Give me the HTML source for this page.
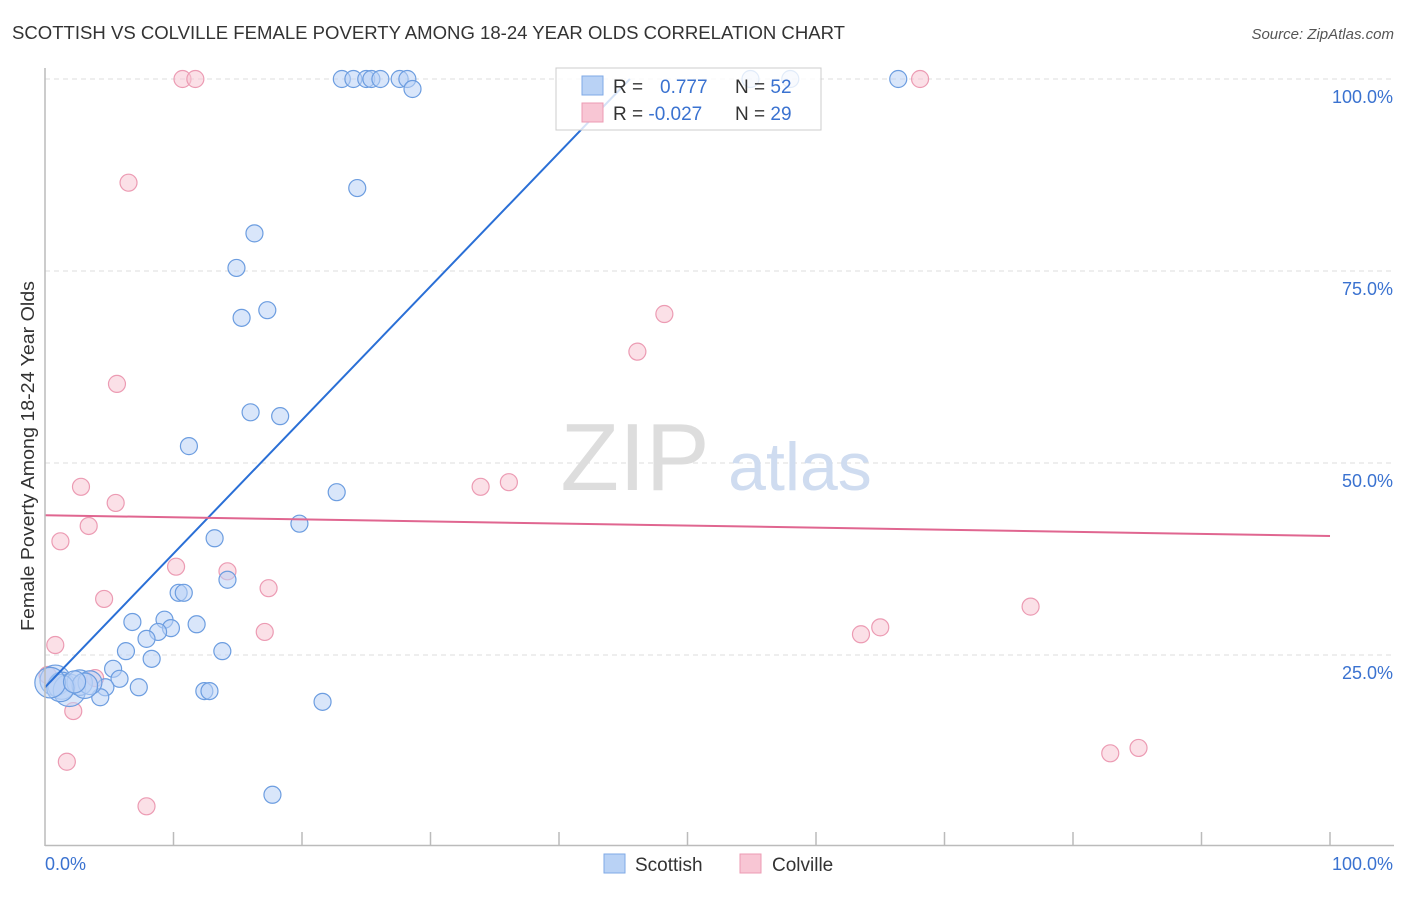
<!DOCTYPE html>
<html><head><meta charset="utf-8"><style>
body{margin:0;background:#fff;font-family:"Liberation Sans",sans-serif;}
svg text{font-family:"Liberation Sans",sans-serif;}
</style></head><body>
<svg width="1406" height="892">
<text x="12" y="39" font-size="18" fill="#333" textLength="833" lengthAdjust="spacingAndGlyphs">SCOTTISH VS COLVILLE FEMALE POVERTY AMONG 18-24 YEAR OLDS CORRELATION CHART</text>
<text x="1394" y="39" font-size="15" fill="#555" font-style="italic" text-anchor="end">Source: ZipAtlas.com</text>
<g id="grid"></g>
<text x="635" y="490" font-size="96" fill="#ddd" font-family="Liberation Serif" text-anchor="middle">ZIP</text>
<text x="800" y="490" font-size="68" fill="#cfdcf0" text-anchor="middle">atlas</text>
<g id="pts"></g>
<g id="trend"></g>
<line x1="45" y1="68" x2="45" y2="846" stroke="#bbb" stroke-width="1.5"/>
<line x1="45" y1="845.5" x2="1394" y2="845.5" stroke="#bbb" stroke-width="1.5"/>
<g id="ticks"></g>
<text x="34" y="456" font-size="18" fill="#333" text-anchor="middle" textLength="350" lengthAdjust="spacingAndGlyphs" transform="rotate(-90 34 456)">Female Poverty Among 18-24 Year Olds</text>
<text x="45" y="870" font-size="18" fill="#3a72d0">0.0%</text>
<text x="1393" y="870" font-size="18" fill="#3a72d0" text-anchor="end">100.0%</text>
<g>
<rect x="556" y="68" width="265" height="62" fill="#fff" fill-opacity="0.8" stroke="#ccc"/>
<rect x="582" y="76" width="21" height="19" fill="#b9d2f5" stroke="#7fa9e6"/>
<rect x="582" y="103" width="21" height="19" fill="#f8c6d4" stroke="#ec9bb3"/>
<text x="613" y="93" font-size="19" fill="#333">R =   <tspan fill="#3a72d0" x="660">0.777</tspan></text>
<text x="735" y="93" font-size="19" fill="#333">N = <tspan fill="#3a72d0">52</tspan></text>
<text x="613" y="120" font-size="19" fill="#333">R = <tspan fill="#3a72d0">-0.027</tspan></text>
<text x="735" y="120" font-size="19" fill="#333">N = <tspan fill="#3a72d0">29</tspan></text>
</g>
<g>
<rect x="604" y="854" width="21" height="19" fill="#b9d2f5" stroke="#7fa9e6"/>
<text x="635" y="871" font-size="19" fill="#333">Scottish</text>
<rect x="740" y="854" width="21" height="19" fill="#f8c6d4" stroke="#ec9bb3"/>
<text x="772" y="871" font-size="19" fill="#333">Colville</text>
</g>
</svg>
<script>
const yTicks=[25,50,75,100];
const yTickLabels=["25.0%","50.0%","75.0%","100.0%"];
const scotX=[23.1,24.0,25.0,25.4,26.1,27.6,28.2,28.6,54.9,58.0,66.4,24.3,16.3,14.9,15.3,17.3,16.0,18.3,11.2,22.7,19.8,13.2,14.2,10.4,10.8,9.3,11.8,6.8,9.8,8.8,7.9,13.8,6.3,8.3,5.3,5.8,7.3,4.7,4.3,12.4,12.8,21.6,17.7,0.8,1.3,1.9,2.7,3.5,3.1,1.2,0.4,2.3];
const scotY=[100,100,100,100,100,100,100,98.7,100,100,100,85.8,79.9,75.4,68.9,69.9,56.6,56.1,52.2,46.2,42.1,40.2,34.8,33.1,33.1,29.6,29.0,29.3,28.5,28.0,27.1,25.5,25.5,24.5,23.2,21.9,20.8,20.8,19.5,20.3,20.3,18.9,6.8,21.7,21.0,20.4,21.4,21.4,21.0,20.7,21.4,21.5];
const scotW=[1,1,1,1,1,1,1,1,1,1,1,1,1,1,1,1,1,1,1,1,1,1,1,1,1,1,1,1,1,1,1,1,1,1,1,1,1,1,1,1,1,1,1,1.8,1.6,1.9,1.5,1.4,1.5,1.6,1.8,1.3];
const colX=[10.7,11.7,68.1,6.5,48.2,46.1,5.6,2.8,36.1,33.9,5.5,3.4,1.2,10.2,14.2,4.6,17.4,17.1,76.7,65.0,63.5,0.8,3.9,2.2,1.7,7.9,82.9,85.1,0.2];
const colY=[100,100,100,86.5,69.4,64.5,60.3,46.9,47.5,46.9,44.8,41.8,39.8,36.5,35.9,32.3,33.7,28.0,31.3,28.6,27.7,26.3,22.0,17.7,11.1,5.3,12.2,12.9,22.4];
const scotTrend=[20.8,1.74];
const colTrend=[43.2,-0.027];
const X=v=>45+v*12.85, Y=v=>847-v*7.68;
const NS="http://www.w3.org/2000/svg";
function mk(t,a,p){const e=document.createElementNS(NS,t);for(const k in a)e.setAttribute(k,a[k]);p.appendChild(e);return e;}
const grid=document.getElementById('grid');
yTicks.forEach((t,i)=>{
 const l=mk('line',{x1:45,x2:1394,y1:Y(t),y2:Y(t),stroke:'#ddd','stroke-dasharray':'5,4'},grid);
 
 
 const tx=mk('text',{x:1393,y:Y(t)+24,'font-size':18,fill:'#3a72d0','text-anchor':'end'},grid);
 tx.textContent=yTickLabels[i];
 
 
});
const ticks=document.getElementById('ticks');
for(let i=1;i<=10;i++){
 const l=mk('line',{x1:X(i*10),x2:X(i*10),y1:832,y2:846,stroke:'#bbb','stroke-width':1.5},ticks);
 
 
}
const pts=document.getElementById('pts');
colX.forEach((x,i)=>{
 const c=mk('circle',{cx:X(x),cy:Y(colY[i]),r:8.5,fill:'#f8c6d4','fill-opacity':0.55,stroke:'#ec9bb3','stroke-width':1.2},pts);
 
 
});
scotX.forEach((x,i)=>{
 const c=mk('circle',{cx:X(x),cy:Y(scotY[i]),r:8.5*scotW[i],fill:'#b9d2f5','fill-opacity':0.55,stroke:'#6c9de0','stroke-width':1.2},pts);
 
 
});
const tr=document.getElementById('trend');
const xe=Math.min(100,(100-scotTrend[0])/scotTrend[1]);
const l1=mk('line',{x1:X(0),y1:Y(scotTrend[0]),x2:X(xe),y2:Y(scotTrend[0]+scotTrend[1]*xe),stroke:'#2a6fd6','stroke-width':2},tr);


const l2=mk('line',{x1:X(0),y1:Y(colTrend[0]),x2:X(100),y2:Y(colTrend[0]+colTrend[1]*100),stroke:'#e06690','stroke-width':2},tr);


</script>
</body></html>
